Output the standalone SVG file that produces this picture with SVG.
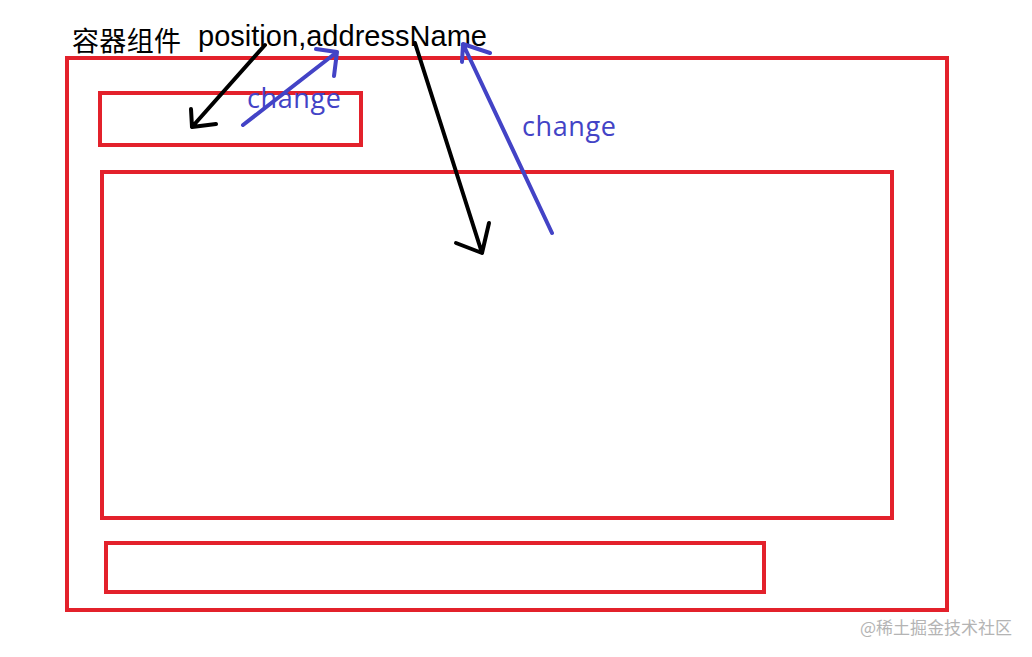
<svg xmlns="http://www.w3.org/2000/svg" width="1032" height="657" viewBox="0 0 1032 657">
<style>
.box{fill:none;stroke:#e3212b;stroke-width:4}
.blk{fill:none;stroke:#000;stroke-width:4;stroke-linecap:round;stroke-linejoin:round}
.blu{fill:none;stroke:#4343c6;stroke-width:4;stroke-linecap:round;stroke-linejoin:round}
.t{font-family:"Liberation Sans","Noto Sans CJK SC",sans-serif;fill:#000}
.c{font-family:"Open Sans","Liberation Sans",sans-serif;fill:#4343c6;font-size:27px}
</style>
<rect width="1032" height="657" fill="#fff"/>
<g id="container"><rect class="box" x="67" y="58" width="880" height="552"/></g>
<g id="top-box"><rect class="box" x="100" y="93" width="261" height="52"/></g>
<g id="middle-box"><rect class="box" x="102" y="172" width="790" height="346"/></g>
<g id="bottom-box"><rect class="box" x="106" y="543" width="658" height="49"/></g>
<g id="labels">
<text class="t" x="72" y="51" font-size="27" textLength="109">容器组件</text>
<text class="t" x="198" y="46" font-size="29" textLength="289">position,addressName</text>
<text class="c" x="247" y="108" textLength="94">change</text>
<text class="c" x="522" y="136" textLength="94">change</text>
</g>
<g id="connectors">
<path class="blk" d="M265,45 L192,127 M191,109 L192,127 L216,124"/>
<path class="blu" d="M243,125 L337,52 M316,49 L337,52 L334,76"/>
<path class="blk" d="M415,43 L482,253 M456,243 L482,253 L489,223"/>
<path class="blu" d="M552,233 L463,44 M462,62 L463,44 L490,53"/>
</g>
<text x="1012" y="634" text-anchor="end" font-family="Noto Sans CJK SC,sans-serif" font-size="17" fill="#b4b4b4">@稀土掘金技术社区</text>
</svg>
